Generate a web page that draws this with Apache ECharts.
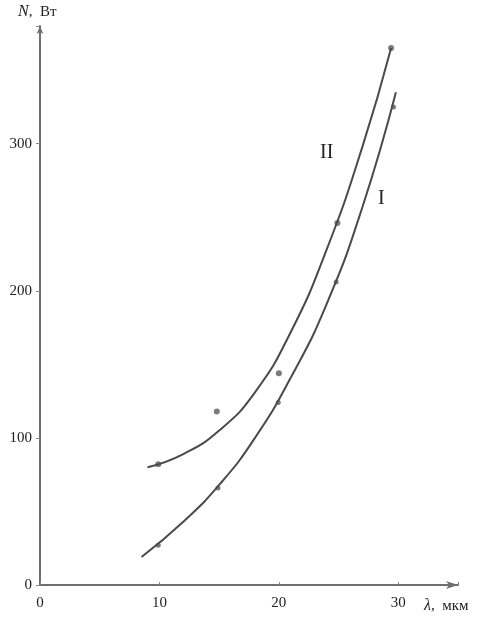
<!DOCTYPE html>
<html>
<head>
<meta charset="utf-8">
<script src="https://cdn.jsdelivr.net/npm/echarts@6/dist/echarts.min.js"></script>
<style>
  html, body { margin: 0; padding: 0; background: #fff; }
  #main { width: 502px; height: 617px; }
</style>
</head>
<body>
<div id="main"></div>
<script>
// curve I (fitted line)
var curve1X = [8.5, 12, 15, 18, 21, 24, 27, 29.8];
var curve1Y = [19, 43, 68, 100, 141, 191, 257, 335];
// measured points on curve I
var dots1X = [9.9, 14.9, 19.95, 24.8, 29.6];
var dots1Y = [27, 66, 124, 206, 325];

// curve II
var curve2X = [9, 12, 15, 18, 21, 24, 27, 29.4];
var curve2Y = [80, 89, 105, 131, 172, 228, 298, 365];
// measured points for curve II (two lie off the curve)
var dots2X = [9.9, 14.8, 20.0, 24.9, 29.4];
var dots2Y = [82, 118, 144, 246, 365];

var xTicks = [0, 10, 20, 30];
var yTicks = [0, 100, 200, 300];

function pairs(xs, ys) {
  var out = [];
  for (var i = 0; i < xs.length; i++) out.push([xs[i], ys[i]]);
  return out;
}

var serif = '"Liberation Serif", "DejaVu Serif", serif';
var myChart = echarts.init(document.getElementById('main'));

myChart.setOption({
  animation: false,
  grid: { left: 40, right: 44, top: 26, bottom: 32 },
  xAxis: {
    type: 'value',
    min: 0,
    max: 35,
    interval: 10,
    axisLine: {
      show: true,
      symbol: ['none', 'arrow'],
      symbolSize: [6, 12],
      lineStyle: { color: '#6f6f6f', width: 2 }
    },
    axisTick: { show: true, length: 3, inside: true, lineStyle: { color: '#888' } },
    axisLabel: {
      color: '#222',
      fontFamily: serif,
      fontSize: 15,
      margin: 11,
      formatter: function (v) { return xTicks.indexOf(v) >= 0 ? String(v) : ''; }
    },
    splitLine: { show: false }
  },
  yAxis: {
    type: 'value',
    min: 0,
    max: 380,
    interval: 100,
    axisLine: {
      show: true,
      symbol: ['none', 'arrow'],
      symbolSize: [5, 8],
      lineStyle: { color: '#6f6f6f', width: 2 }
    },
    axisTick: { show: true, length: 4, lineStyle: { color: '#888' } },
    axisLabel: {
      color: '#222',
      fontFamily: serif,
      fontSize: 15,
      margin: 8,
      formatter: function (v) { return yTicks.indexOf(v) >= 0 ? String(v) : ''; }
    },
    splitLine: { show: false }
  },
  graphic: [
    {
      type: 'text', left: 18, top: 4,
      style: {
        text: '{i|N},  Вт',
        font: '15px ' + serif,
        fill: '#222',
        rich: { i: { fontStyle: 'italic', fontFamily: serif, fontSize: 16, fill: '#222' } }
      }
    },
    {
      type: 'text', left: 424, top: 598,
      style: {
        text: '{i|λ},  мкм',
        font: '15px ' + serif,
        fill: '#222',
        rich: { i: { fontStyle: 'italic', fontFamily: serif, fontSize: 16, fill: '#222' } }
      }
    },
    { type: 'text', left: 320, top: 143, style: { text: 'II', font: '20px ' + serif, fill: '#222' } },
    { type: 'text', left: 378, top: 189, style: { text: 'I', font: '20px ' + serif, fill: '#222' } }
  ],
  series: [
    {
      name: 'I',
      type: 'line',
      smooth: 0.5,
      showSymbol: false,
      data: pairs(curve1X, curve1Y),
      lineStyle: { color: '#4a4a4a', width: 2 }
    },
    {
      name: 'II',
      type: 'line',
      smooth: 0.5,
      showSymbol: false,
      data: pairs(curve2X, curve2Y),
      lineStyle: { color: '#4a4a4a', width: 2 }
    },
    {
      type: 'scatter',
      symbolSize: 5,
      data: pairs(dots1X, dots1Y),
      itemStyle: { color: '#5a5a5a' }
    },
    {
      type: 'scatter',
      symbolSize: 6,
      data: pairs(dots2X, dots2Y),
      itemStyle: { color: '#5a5a5a' }
    }
  ]
});
</script>
</body>
</html>
